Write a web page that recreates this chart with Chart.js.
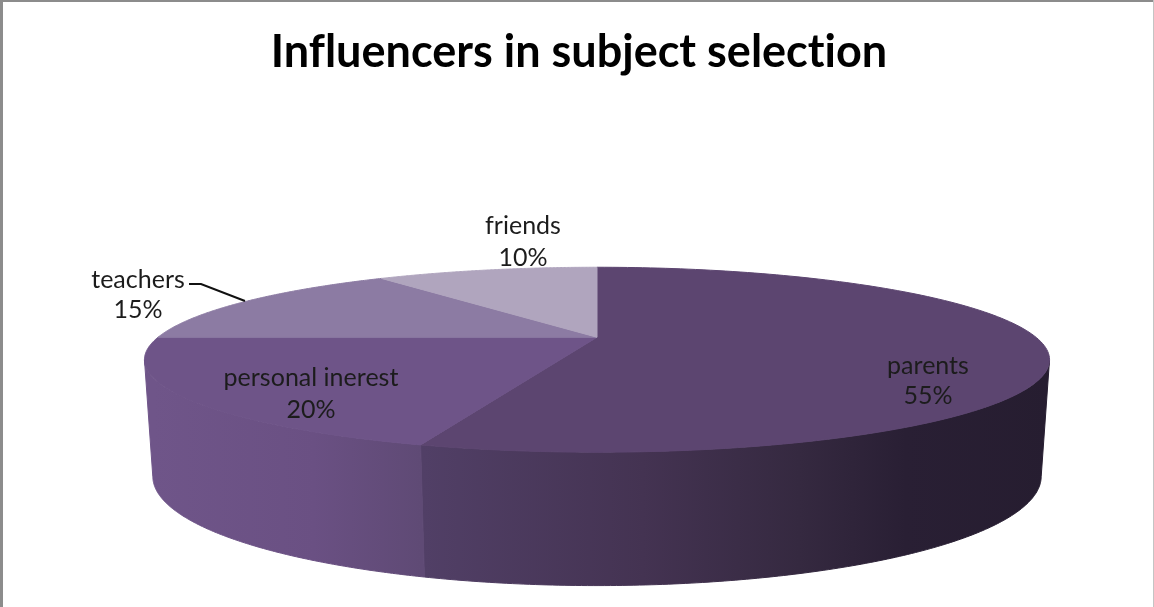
<!DOCTYPE html>
<html>
<head>
<meta charset="utf-8">
<title>Influencers in subject selection</title>
<script src="https://cdn.jsdelivr.net/npm/chart.js@4/dist/chart.umd.min.js"></script>
<style>
  html, body { margin: 0; padding: 0; background: #fff; overflow: hidden; }
  canvas { display: block; }
</style>
</head>
<body>
<canvas id="myPieChart" width="1154" height="607"></canvas>
<script>
// Chart data
const categories = ['parents', 'personal inerest', 'teachers', 'friends'];
const shares = [55, 20, 15, 10];

// Slice styling
const topColors = ['#5c4570', '#6e5488', '#8c7ba3', '#b0a5be'];
const wallStops = [
  [[0, '#513f66'], [0.35, '#443352'], [0.6, '#352940'], [0.77, '#291f34'], [1, '#261d30']],
  [[0, '#6f5589'], [0.6, '#6a5083'], [1, '#5f4a75']],
  [[0, '#6f5589'], [1, '#6f5589']],
  [[0, '#6f5589'], [1, '#6f5589']],
];

// Where the label of each slice sits (centre x, first line y, second line y)
const labelSpots = [
  [928, 366, 396],
  [311, 378, 410],
  [138, 280, 310],
  [523, 226, 258],
];

// Tilted disc: the top rim and the bottom rim get their own projection.
// x and y are multiples of the pie radius, k is the perspective strength.
const topRim = { dy: 0, x: 1.69, y: 0.335, k: 0.243 };
const bottomRim = { dy: 113, x: 1.66, y: 0.396, k: 0.24 };

function project(arc, rim, angle, fraction) {
  const across = Math.cos(angle) * fraction;
  const depth = Math.sin(angle) * fraction;
  const w = 1 - rim.k * depth;
  return {
    x: arc.x + (arc.outerRadius * rim.x * across) / w,
    y: arc.y + rim.dy + (arc.outerRadius * rim.y * depth) / w,
  };
}

function traceRim(ctx, arc, rim, from, to) {
  const steps = 160;
  for (let i = 0; i <= steps; i++) {
    const p = project(arc, rim, from + ((to - from) * i) / steps, 1);
    ctx.lineTo(p.x, p.y);
  }
}

const solidPie = {
  id: 'solidPie',
  afterLayout(chart) {
    // the title sits a little left of the pie centre
    chart.titleBlock.left -= 18;
    chart.titleBlock.right -= 18;
  },
  beforeDraw(chart) {
    // a tiny spacing switches off the "fi" and "ti" ligatures of Lato
    chart.ctx.letterSpacing = '0.01px';
  },
  beforeDatasetDraw(chart) {
    const ctx = chart.ctx;
    const arcs = chart.getDatasetMeta(0).data;
    // only the part between the two side silhouettes faces the viewer
    const wallStart = Math.asin(topRim.k);
    const wallEnd = Math.PI - wallStart;

    ctx.save();
    ctx.lineWidth = 1;
    ctx.lineJoin = 'round';
    arcs.forEach((arc, i) => {
      const from = Math.max(arc.startAngle, wallStart);
      const to = Math.min(arc.endAngle, wallEnd);
      if (from >= to) return;
      const left = project(arc, bottomRim, to, 1).x;
      const right = project(arc, topRim, from, 1).x;
      const gradient = ctx.createLinearGradient(left, 0, right, 0);
      wallStops[i].forEach((s) => gradient.addColorStop(s[0], s[1]));
      ctx.beginPath();
      traceRim(ctx, arc, topRim, from, to);
      traceRim(ctx, arc, bottomRim, to, from);
      ctx.closePath();
      ctx.fillStyle = gradient;
      ctx.strokeStyle = gradient;
      ctx.fill();
      ctx.stroke();
    });

    arcs.forEach((arc, i) => {
      ctx.beginPath();
      ctx.moveTo(arc.x, arc.y);
      traceRim(ctx, arc, topRim, arc.startAngle, arc.endAngle);
      ctx.closePath();
      ctx.fillStyle = topColors[i];
      ctx.strokeStyle = topColors[i];
      ctx.fill();
      ctx.stroke();
    });
    ctx.restore();
    return false; // the flat arcs are replaced by the tilted ones
  },
  afterDatasetsDraw(chart) {
    const ctx = chart.ctx;
    ctx.save();

    // leader line of the teachers label
    ctx.strokeStyle = '#111';
    ctx.lineWidth = 2;
    ctx.beginPath();
    ctx.moveTo(189, 284);
    ctx.lineTo(201, 284);
    ctx.lineTo(245, 301);
    ctx.stroke();

    ctx.fillStyle = '#1c1c1c';
    ctx.font = '25px Lato';
    ctx.textAlign = 'center';
    ctx.textBaseline = 'middle';
    categories.forEach((name, i) => {
      const spot = labelSpots[i];
      ctx.fillText(name, spot[0], spot[1]);
      ctx.fillText(shares[i] + '%', spot[0], spot[2]);
    });

    // frame around the chart
    ctx.fillStyle = '#8c8c8c';
    ctx.fillRect(0, 0, 1154, 2);
    ctx.fillRect(0, 0, 3, 607);
    ctx.fillStyle = '#c4c4c4';
    ctx.fillRect(1153, 0, 1, 607);
    ctx.restore();
  },
};

let ctx = document.getElementById('myPieChart').getContext('2d');
let myPieChart = new Chart(ctx, {
  type: 'pie',
  data: {
    labels: categories,
    datasets: [
      {
        data: shares,
        backgroundColor: topColors,
        borderWidth: 0,
        hoverOffset: 0,
      },
    ],
  },
  options: {
    responsive: false,
    animation: false,
    layout: { padding: { left: 40, bottom: 10 } },
    plugins: {
      legend: { display: false },
      title: {
        display: true,
        text: 'Influencers in subject selection',
        color: '#000',
        font: { family: 'Lato', size: 45, weight: 'bold', lineHeight: 1.1 },
        padding: { top: 28, bottom: 0 },
      },
    },
  },
  plugins: [solidPie],
});
</script>
</body>
</html>
